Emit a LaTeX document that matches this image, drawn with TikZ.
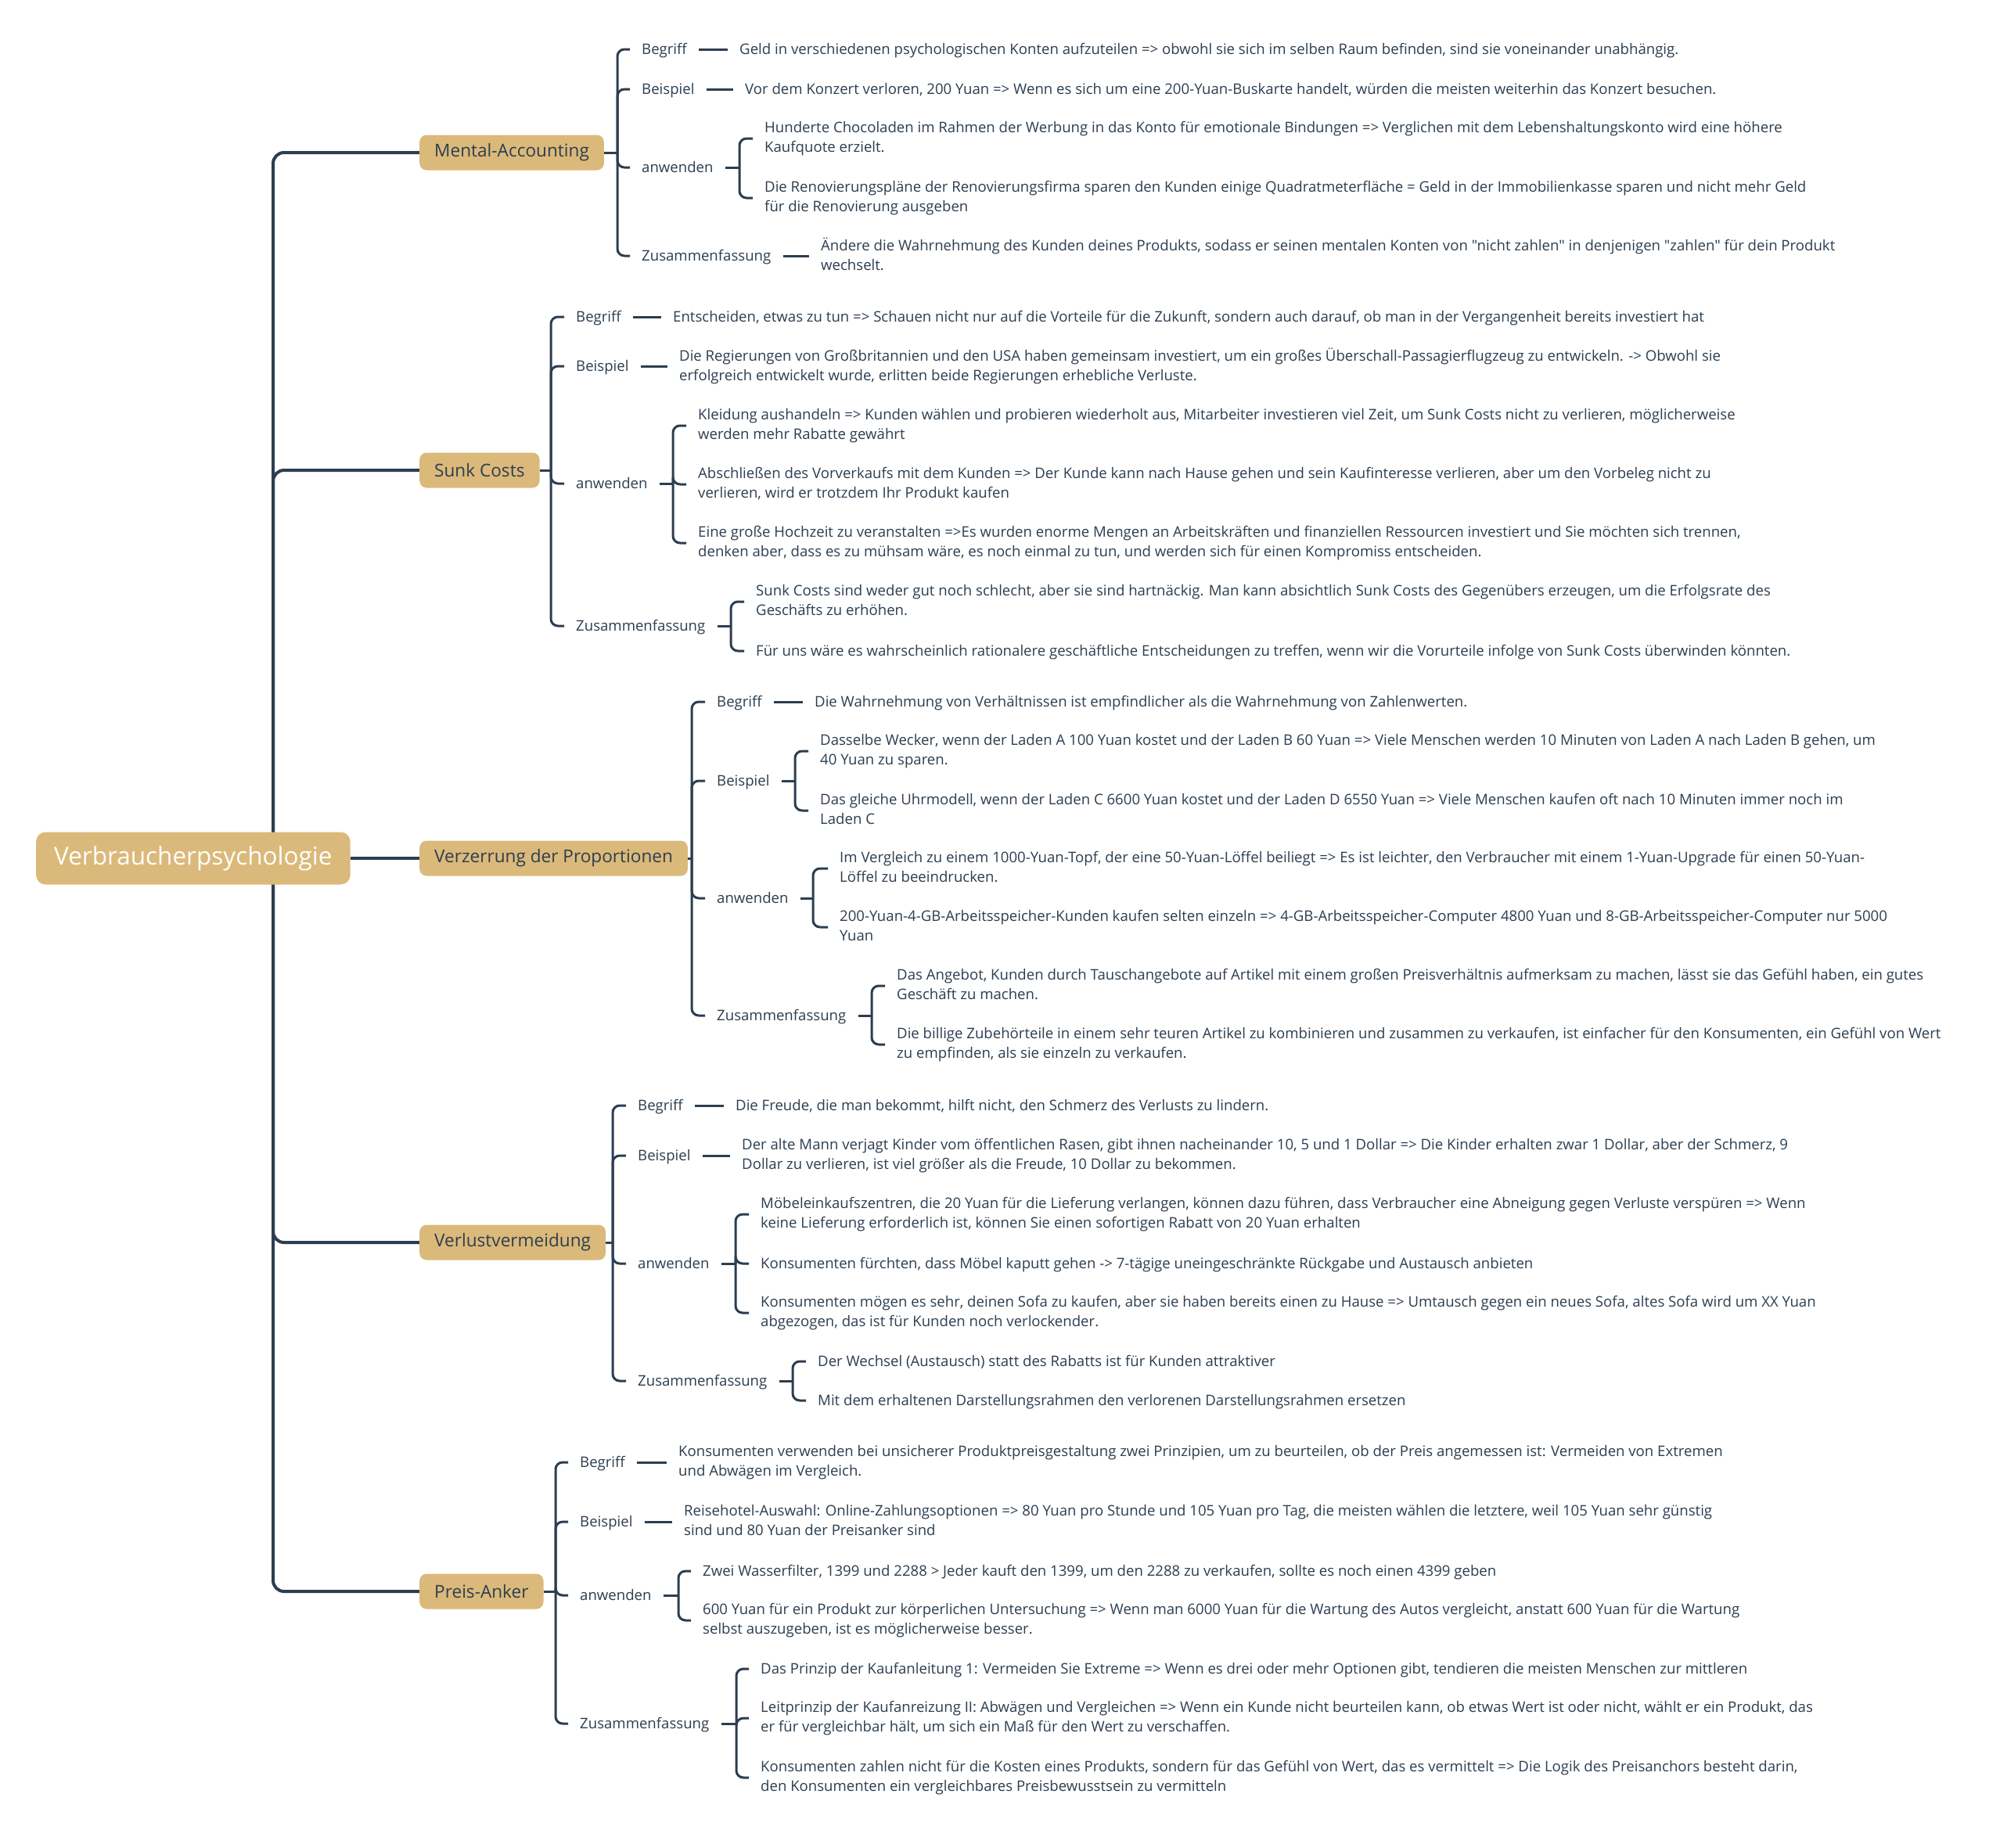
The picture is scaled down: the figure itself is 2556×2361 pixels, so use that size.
\documentclass[tikz,border=0pt]{standalone}
\usepackage{fontspec}
\setmainfont{Open Sans}[Ligatures=TeXOff]
\usetikzlibrary{calc}
\definecolor{ink}{HTML}{2C3E50}
\definecolor{boxtan}{HTML}{DBB97A}
\pgfdeclarelayer{bglayer}
\pgfdeclarelayer{linelayer}
\pgfsetlayers{bglayer,linelayer,main}
\begin{document}
\begin{tikzpicture}[x=1pt,y=-1pt,
  conn/.style={draw=ink, line width=3pt, rounded corners=9pt},
  trunk/.style={draw=ink, line width=4pt, rounded corners=14pt},
  rootbox/.style={fill=boxtan, rounded corners=12pt, text=white, font=\fontsize{31.5}{36}\selectfont, minimum height=67pt, inner xsep=23pt, anchor=west},
  topic/.style={fill=boxtan, rounded corners=9pt, text=ink, font=\fontsize{22.6}{26}\selectfont, minimum height=45pt, inner xsep=19pt, anchor=west},
  lbl/.style={text=ink, font=\fontsize{18.6}{25}\selectfont, inner xsep=15pt, inner ysep=0pt, anchor=west,
    execute at begin node={\rule{0pt}{17pt}}, execute at end node={\rule[-5pt]{0pt}{0pt}}},
  leaf/.style={lbl, align=left},
]
\useasboundingbox (0,0) rectangle (2556,2361);
\begin{pgfonlayer}{bglayer}
\fill[white] (0,0) rectangle (2556,2361);
\end{pgfonlayer}

% root and topics
\node[rootbox] (root) at (46,1097) {Verbraucherpsychologie};
\node[topic] (ta) at (536,195) {Mental-Accounting};
\node[topic] (tb) at (536,601) {Sunk Costs};
\node[topic] (tc) at (536,1097) {Verzerrung der Proportionen};
\node[topic] (td) at (536,1588) {Verlustvermeidung};
\node[topic] (te) at (536,2034) {Preis-Anker};

% ---- Mental-Accounting
\node[lbl] (aB) at (805,63) {Begriff};
\node[leaf] (aB1) at (930,63) {Geld in verschiedenen psychologischen Konten aufzuteilen => obwohl sie sich im selben Raum befinden, sind sie voneinander unabhängig.};
\node[lbl] (aP) at (805,114) {Beispiel};
\node[leaf] (aP1) at (937,114) {Vor dem Konzert verloren, 200 Yuan => Wenn es sich um eine 200-Yuan-Buskarte handelt, würden die meisten weiterhin das Konzert besuchen.};
\node[lbl] (aA) at (805,214) {anwenden};
\node[leaf] (aA1) at (962,177) {Hunderte Chocoladen im Rahmen der Werbung in das Konto für emotionale Bindungen => Verglichen mit dem Lebenshaltungskonto wird eine höhere\\Kaufquote erzielt.};
\node[leaf] (aA2) at (962,253) {Die Renovierungspläne der Renovierungsfirma sparen den Kunden einige Quadratmeterfläche = Geld in der Immobilienkasse sparen und nicht mehr Geld\\für die Renovierung ausgeben};
\node[lbl] (aZ) at (805,327) {Zusammenfassung};
\node[leaf] (aZ1) at (1034,327) {Ändere die Wahrnehmung des Kunden deines Produkts, sodass er seinen mentalen Konten von "nicht zahlen" in denjenigen "zahlen" für dein Produkt\\wechselt.};

% ---- Sunk Costs
\node[lbl] (bB) at (721,405) {Begriff};
\node[leaf] (bB1) at (845,405) {Entscheiden, etwas zu tun => Schauen nicht nur auf die Vorteile für die Zukunft, sondern auch darauf, ob man in der Vergangenheit bereits investiert hat};
\node[lbl] (bP) at (721,468) {Beispiel};
\node[leaf] (bP1) at (853,468) {Die Regierungen von Großbritannien und den USA haben gemeinsam investiert, um ein großes Überschall-Passagierflugzeug zu entwickeln. -> Obwohl sie\\erfolgreich entwickelt wurde, erlitten beide Regierungen erhebliche Verluste.};
\node[lbl] (bA) at (721,618) {anwenden};
\node[leaf] (bA1) at (877,544) {Kleidung aushandeln => Kunden wählen und probieren wiederholt aus, Mitarbeiter investieren viel Zeit, um Sunk Costs nicht zu verlieren, möglicherweise\\werden mehr Rabatte gewährt};
\node[leaf] (bA2) at (877,619) {Abschließen des Vorverkaufs mit dem Kunden => Der Kunde kann nach Hause gehen und sein Kaufinteresse verlieren, aber um den Vorbeleg nicht zu\\verlieren, wird er trotzdem Ihr Produkt kaufen};
\node[leaf] (bA3) at (877,694) {Eine große Hochzeit zu veranstalten =>Es wurden enorme Mengen an Arbeitskräften und finanziellen Ressourcen investiert und Sie möchten sich trennen,\\denken aber, dass es zu mühsam wäre, es noch einmal zu tun, und werden sich für einen Kompromiss entscheiden.};
\node[lbl] (bZ) at (721,800) {Zusammenfassung};
\node[leaf] (bZ1) at (951,769) {Sunk Costs sind weder gut noch schlecht, aber sie sind hartnäckig. Man kann absichtlich Sunk Costs des Gegenübers erzeugen, um die Erfolgsrate des\\Geschäfts zu erhöhen.};
\node[leaf] (bZ2) at (951,832) {Für uns wäre es wahrscheinlich rationalere geschäftliche Entscheidungen zu treffen, wenn wir die Vorurteile infolge von Sunk Costs überwinden könnten.};

% ---- Verzerrung der Proportionen
\node[lbl] (cB) at (901,897) {Begriff};
\node[leaf] (cB1) at (1026,897) {Die Wahrnehmung von Verhältnissen ist empfindlicher als die Wahrnehmung von Zahlenwerten.};
\node[lbl] (cP) at (901,998) {Beispiel};
\node[leaf] (cP1) at (1033,960) {Dasselbe Wecker, wenn der Laden A 100 Yuan kostet und der Laden B 60 Yuan => Viele Menschen werden 10 Minuten von Laden A nach Laden B gehen, um\\40 Yuan zu sparen.};
\node[leaf] (cP2) at (1033,1036) {Das gleiche Uhrmodell, wenn der Laden C 6600 Yuan kostet und der Laden D 6550 Yuan => Viele Menschen kaufen oft nach 10 Minuten immer noch im\\Laden C};
\node[lbl] (cA) at (901,1148) {anwenden};
\node[leaf] (cA1) at (1058,1110) {Im Vergleich zu einem 1000-Yuan-Topf, der eine 50-Yuan-Löffel beiliegt => Es ist leichter, den Verbraucher mit einem 1-Yuan-Upgrade für einen 50-Yuan-\\Löffel zu beeindrucken.};
\node[leaf] (cA2) at (1058,1185) {200-Yuan-4-GB-Arbeitsspeicher-Kunden kaufen selten einzeln => 4-GB-Arbeitsspeicher-Computer 4800 Yuan und 8-GB-Arbeitsspeicher-Computer nur 5000\\Yuan};
\node[lbl] (cZ) at (901,1298) {Zusammenfassung};
\node[leaf] (cZ1) at (1131,1260) {Das Angebot, Kunden durch Tauschangebote auf Artikel mit einem großen Preisverhältnis aufmerksam zu machen, lässt sie das Gefühl haben, ein gutes\\Geschäft zu machen.};
\node[leaf] (cZ2) at (1131,1335) {Die billige Zubehörteile in einem sehr teuren Artikel zu kombinieren und zusammen zu verkaufen, ist einfacher für den Konsumenten, ein Gefühl von Wert\\zu empfinden, als sie einzeln zu verkaufen.};

% ---- Verlustvermeidung
\node[lbl] (dB) at (800,1413) {Begriff};
\node[leaf] (dB1) at (925,1413) {Die Freude, die man bekommt, hilft nicht, den Schmerz des Verlusts zu lindern.};
\node[lbl] (dP) at (800,1477) {Beispiel};
\node[leaf] (dP1) at (933,1477) {Der alte Mann verjagt Kinder vom öffentlichen Rasen, gibt ihnen nacheinander 10, 5 und 1 Dollar => Die Kinder erhalten zwar 1 Dollar, aber der Schmerz, 9\\Dollar zu verlieren, ist viel größer als die Freude, 10 Dollar zu bekommen.};
\node[lbl] (dA) at (800,1615) {anwenden};
\node[leaf] (dA1) at (957,1552) {Möbeleinkaufszentren, die 20 Yuan für die Lieferung verlangen, können dazu führen, dass Verbraucher eine Abneigung gegen Verluste verspüren => Wenn\\keine Lieferung erforderlich ist, können Sie einen sofortigen Rabatt von 20 Yuan erhalten};
\node[leaf] (dA2) at (957,1615) {Konsumenten fürchten, dass Möbel kaputt gehen -> 7-tägige uneingeschränkte Rückgabe und Austausch anbieten};
\node[leaf] (dA3) at (957,1678) {Konsumenten mögen es sehr, deinen Sofa zu kaufen, aber sie haben bereits einen zu Hause => Umtausch gegen ein neues Sofa, altes Sofa wird um XX Yuan\\abgezogen, das ist für Kunden noch verlockender.};
\node[lbl] (dZ) at (800,1765) {Zusammenfassung};
\node[leaf] (dZ1) at (1030,1740) {Der Wechsel (Austausch) statt des Rabatts ist für Kunden attraktiver};
\node[leaf] (dZ2) at (1030,1790) {Mit dem erhaltenen Darstellungsrahmen den verlorenen Darstellungsrahmen ersetzen};

% ---- Preis-Anker
\node[lbl] (eB) at (726,1869) {Begriff};
\node[leaf] (eB1) at (852,1869) {Konsumenten verwenden bei unsicherer Produktpreisgestaltung zwei Prinzipien, um zu beurteilen, ob der Preis angemessen ist: Vermeiden von Extremen\\und Abwägen im Vergleich.};
\node[lbl] (eP) at (726,1945) {Beispiel};
\node[leaf] (eP1) at (859,1945) {Reisehotel-Auswahl: Online-Zahlungsoptionen => 80 Yuan pro Stunde und 105 Yuan pro Tag, die meisten wählen die letztere, weil 105 Yuan sehr günstig\\sind und 80 Yuan der Preisanker sind};
\node[lbl] (eA) at (726,2039) {anwenden};
\node[leaf] (eA1) at (883,2008) {Zwei Wasserfilter, 1399 und 2288 > Jeder kauft den 1399, um den 2288 zu verkaufen, sollte es noch einen 4399 geben};
\node[leaf] (eA2) at (883,2071) {600 Yuan für ein Produkt zur körperlichen Untersuchung => Wenn man 6000 Yuan für die Wartung des Autos vergleicht, anstatt 600 Yuan für die Wartung\\selbst auszugeben, ist es möglicherweise besser.};
\node[lbl] (eZ) at (726,2203) {Zusammenfassung};
\node[leaf] (eZ1) at (957,2133) {Das Prinzip der Kaufanleitung 1: Vermeiden Sie Extreme => Wenn es drei oder mehr Optionen gibt, tendieren die meisten Menschen zur mittleren};
\node[leaf] (eZ2) at (957,2196) {Leitprinzip der Kaufanreizung II: Abwägen und Vergleichen => Wenn ein Kunde nicht beurteilen kann, ob etwas Wert ist oder nicht, wählt er ein Produkt, das\\er für vergleichbar hält, um sich ein Maß für den Wert zu verschaffen.};
\node[leaf] (eZ3) at (957,2272) {Konsumenten zahlen nicht für die Kosten eines Produkts, sondern für das Gefühl von Wert, das es vermittelt => Die Logik des Preisanchors besteht darin,\\den Konsumenten ein vergleichbares Preisbewusstsein zu vermitteln};

% ---- connectors
\begin{pgfonlayer}{linelayer}
\coordinate (t0) at (349,1097);
\foreach \t in {ta,tb,td,te} \draw[trunk] (t0) |- (\t.west);
\draw[trunk] (root.east) -- (tc.west);

% main brackets
\coordinate (ma) at (789,195);
\coordinate (mb) at (704,601);
\coordinate (mc) at (884,1097);
\coordinate (md) at (783,1588);
\coordinate (me) at (710,2034);
\foreach \s in {a,b,c,d,e}{
  \draw[conn] (t\s.east) -- (m\s);
  \foreach \k in {B,P,A,Z} \draw[conn] (m\s) |- (\s\k.west);
}

% single dashes
\foreach \n in {aB,aP,aZ,bB,bP,cB,dB,dP,eB,eP} \draw[conn] (\n.east) -- (\n1.west);

% sub-brackets
\coordinate (saA) at (945,214);
\coordinate (sbA) at (860,618);
\coordinate (sbZ) at (934,800);
\coordinate (scP) at (1016,998);
\coordinate (scA) at (1039,1148);
\coordinate (scZ) at (1114,1298);
\coordinate (sdA) at (940,1615);
\coordinate (sdZ) at (1013,1765);
\coordinate (seA) at (867,2039);
\coordinate (seZ) at (941,2203);
\foreach \n/\m in {aA/2,bA/3,bZ/2,cP/2,cA/2,cZ/2,dA/3,dZ/2,eA/2,eZ/3}{
  \draw[conn] (\n.east) -- (s\n);
  \foreach \i in {1,...,\m} \draw[conn] (s\n) |- (\n\i.west);
}
\end{pgfonlayer}
\end{tikzpicture}
\end{document}
